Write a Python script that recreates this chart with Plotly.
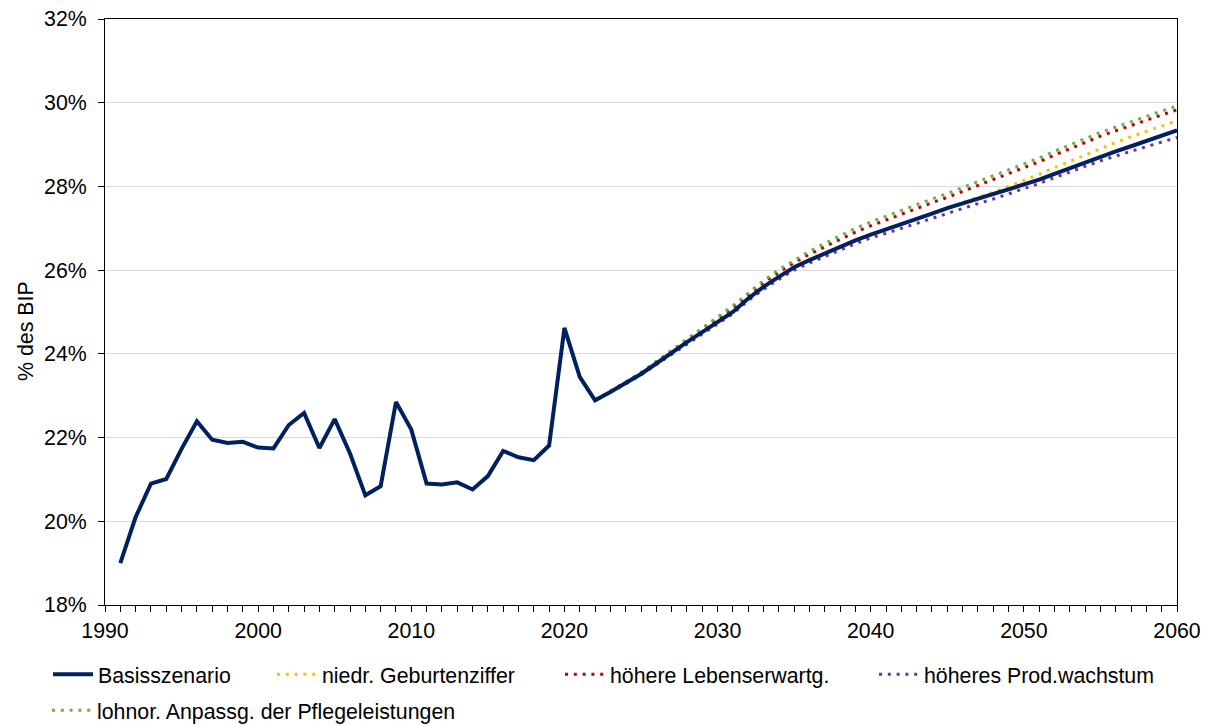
import plotly.graph_objects as go

# Pflegeausgaben in % des BIP
years = list(range(1991, 2061))
basis = [
    19.00, 20.10, 20.90, 21.01, 21.73, 22.39, 21.95, 21.87, 21.90, 21.76,
    21.74, 22.30, 22.59, 21.75, 22.44, 21.62, 20.62, 20.84, 22.85, 22.19,
    20.90, 20.88, 20.93, 20.76, 21.08, 21.68, 21.53, 21.46, 21.81, 24.62,
    23.45, 22.89, 23.09, 23.30, 23.52, 23.77, 24.03, 24.28, 24.52, 24.76,
    25.00, 25.32, 25.60, 25.84, 26.07, 26.24, 26.40, 26.56, 26.71, 26.85,
    26.97, 27.10, 27.22, 27.35, 27.48, 27.59, 27.70, 27.81, 27.92, 28.03,
    28.16, 28.30, 28.44, 28.58, 28.71, 28.84, 28.96, 29.08, 29.21, 29.34,
]

scen_years = list(range(2022, 2061))
geburten = [
    22.89, 23.09, 23.30, 23.52, 23.77, 24.03, 24.28, 24.52, 24.76, 25.00,
    25.32, 25.60, 25.84, 26.07, 26.24, 26.40, 26.56, 26.71, 26.85, 26.97,
    27.10, 27.22, 27.36, 27.49, 27.61, 27.74, 27.86, 28.00, 28.14, 28.29,
    28.45, 28.60, 28.76, 28.91, 29.05, 29.19, 29.32, 29.45, 29.57,
]
lebenserw = [
    22.89, 23.10, 23.31, 23.54, 23.80, 24.06, 24.33, 24.59, 24.84, 25.10,
    25.41, 25.70, 25.95, 26.18, 26.38, 26.56, 26.74, 26.91, 27.06, 27.20,
    27.34, 27.47, 27.61, 27.74, 27.88, 28.02, 28.16, 28.30, 28.44, 28.59,
    28.75, 28.90, 29.05, 29.20, 29.33, 29.46, 29.58, 29.71, 29.83,
]
prod = [
    22.89, 23.08, 23.28, 23.50, 23.74, 24.00, 24.24, 24.48, 24.72, 24.96,
    25.27, 25.54, 25.78, 26.00, 26.17, 26.33, 26.48, 26.63, 26.77, 26.88,
    27.00, 27.12, 27.24, 27.36, 27.47, 27.59, 27.70, 27.82, 27.94, 28.07,
    28.21, 28.35, 28.48, 28.61, 28.73, 28.84, 28.95, 29.06, 29.17,
]
lohnor = [
    22.89, 23.10, 23.32, 23.56, 23.82, 24.09, 24.36, 24.62, 24.88, 25.15,
    25.46, 25.75, 26.01, 26.24, 26.45, 26.64, 26.83, 27.00, 27.15, 27.29,
    27.43, 27.56, 27.70, 27.83, 27.97, 28.11, 28.25, 28.39, 28.53, 28.68,
    28.84, 28.99, 29.14, 29.29, 29.42, 29.55, 29.67, 29.80, 29.92,
]

FONT = "Liberation Sans, Arial, sans-serif"
FS = 21.33
# page body has an 8px margin, the figure starts at (8, 8) in the window
OFF = 8
W, H = 1200, 718
L, R, T, B = 97, 31, 10.5, 120.5
PW, PH = W - L - R, H - T - B


def px_x(px):
    # screen pixel -> paper coordinate
    return (px - OFF - L) / PW


def px_y(py):
    return (H - B - (py - OFF)) / PH


dots = "3px,5.8px"
fig = go.Figure()

scenarios = [
    ("niedr. Geburtenziffer", geburten, "#FFC000", "legend2"),
    ("höhere Lebenserwartg.", lebenserw, "#C00000", "legend3"),
    ("höheres Prod.wachstum", prod, "#7030A0", "legend4"),
    ("lohnor. Anpassg. der Pflegeleistungen", lohnor, "#70AD47", "legend5"),
]
for name, vals, col, leg in scenarios:
    fig.add_trace(go.Scatter(
        x=scen_years, y=vals, mode="lines", name=name, legend=leg,
        line=dict(color=col, width=3, dash=dots),
    ))

fig.add_trace(go.Scatter(
    x=years, y=basis, mode="lines", name="Basisszenario", legend="legend",
    line=dict(color="#002060", width=4),
))

leg_common = dict(
    orientation="h", xanchor="left", yanchor="middle",
    bgcolor="rgba(0,0,0,0)", borderwidth=0, itemwidth=40,
    font=dict(family=FONT, size=FS, color="black"),
)
row1, row2 = px_y(675), px_y(711)
fig.update_layout(
    legend=dict(x=px_x(48), y=row1, **leg_common),
    legend2=dict(x=px_x(272), y=row1, **leg_common),
    legend3=dict(x=px_x(560), y=row1, **leg_common),
    legend4=dict(x=px_x(874), y=row1, **leg_common),
    legend5=dict(x=px_x(47), y=row2, **leg_common),
)

fig.update_xaxes(
    range=[1990, 2060], dtick=10, tick0=1990,
    showgrid=False, showline=True, linecolor="black", linewidth=1, mirror=True,
    ticks="outside", ticklen=6, tickcolor="black", ticklabelstandoff=0,
    ticklabeloverflow="allow",
    minor=dict(dtick=1, ticks="outside", ticklen=6, tickcolor="black", showgrid=False),
    tickfont=dict(family=FONT, size=FS, color="black"),
    zeroline=False, automargin=False,
)
fig.update_yaxes(
    range=[18, 32], dtick=2, ticksuffix="%",
    showgrid=True, gridcolor="#d9d9d9", gridwidth=1,
    showline=True, linecolor="black", linewidth=1, mirror=True,
    ticks="outside", ticklen=6, tickcolor="black", ticklabelstandoff=7,
    ticklabeloverflow="allow",
    tickfont=dict(family=FONT, size=FS, color="black"),
    zeroline=False, automargin=False,
)

fig.add_annotation(
    text="% des BIP", textangle=-90, showarrow=False,
    xref="paper", yref="paper", x=px_x(26), y=px_y(331),
    xanchor="center", yanchor="middle",
    font=dict(family=FONT, size=FS, color="black"),
)

fig.update_layout(
    width=W, height=H,
    margin=dict(l=L, r=R, t=T, b=B, autoexpand=False),
    plot_bgcolor="white", paper_bgcolor="white",
    showlegend=True,
)

fig.write_html("out.html")
